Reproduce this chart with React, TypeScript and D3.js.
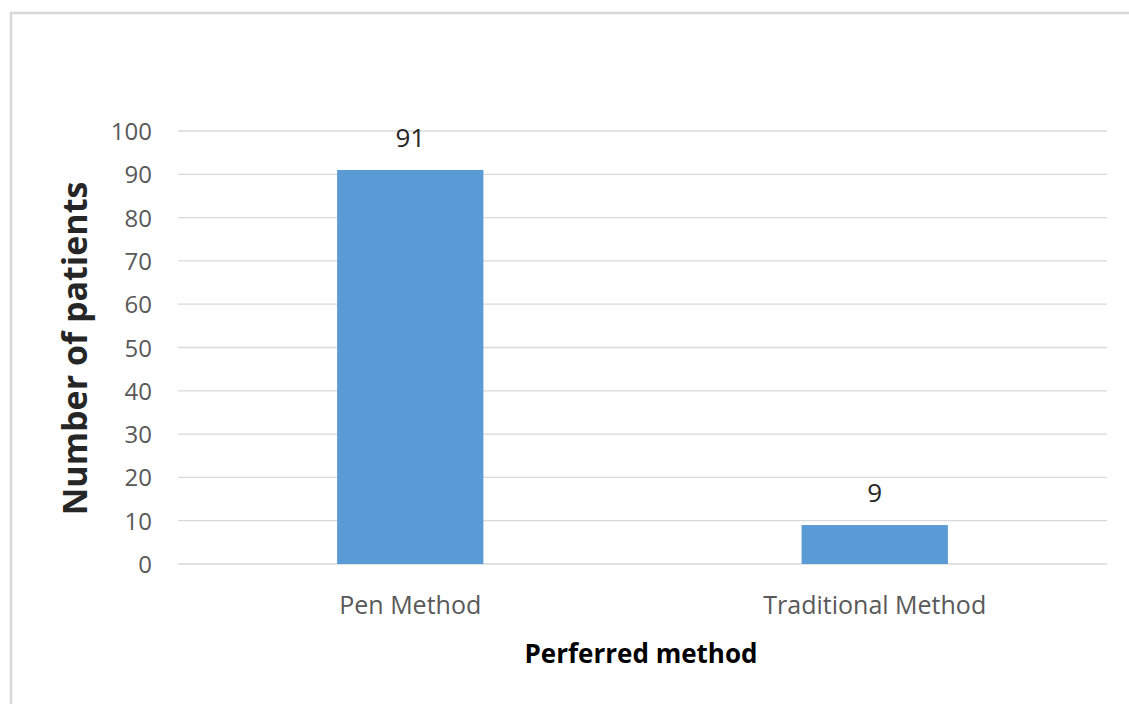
import React from "react";
import * as d3 from "d3";

const categories = ["Pen Method", "Traditional Method"];
const patients = [91, 9];
const yTicks = [0, 10, 20, 30, 40, 50, 60, 70, 80, 90, 100];

const W = 1129;
const H = 704;
const plot = { left: 178, right: 1107, top: 131, bottom: 564 };
const font = "'Open Sans', sans-serif";

export default function App() {
  const x = d3
    .scaleBand<string>()
    .domain(categories)
    .range([plot.left, plot.right])
    .paddingInner(0.685)
    .paddingOuter(0.3425);
  const y = d3.scaleLinear().domain([0, 100]).range([plot.bottom, plot.top]);

  return (
    <svg
      width={W}
      height={H}
      style={{ position: "absolute", left: 0, top: 0, background: "#fff" }}
    >
      <rect x={11} y={13} width={W + 10} height={H + 10} fill="#fff" stroke="#d9d9d9" strokeWidth={2.5} />
      {yTicks.map((t) => (
        <g key={t}>
          <line x1={plot.left} x2={plot.right} y1={y(t)} y2={y(t)} stroke="#d9d9d9" strokeWidth={1.3} />
          <text
            x={152}
            y={y(t) + 9}
            textAnchor="end"
            fontFamily={font}
            fontSize={24}
            fill="#595959"
          >
            {t}
          </text>
        </g>
      ))}
      {categories.map((c, i) => (
        <g key={c}>
          <rect
            x={x(c)}
            y={y(patients[i])}
            width={x.bandwidth()}
            height={y(0) - y(patients[i])}
            fill="#5b9bd5"
          />
          <text
            x={(x(c) as number) + x.bandwidth() / 2}
            y={y(patients[i]) - 23}
            textAnchor="middle"
            fontFamily={font}
            fontSize={26}
            fill="#262626"
          >
            {patients[i]}
          </text>
          <text
            x={(x(c) as number) + x.bandwidth() / 2}
            y={614}
            textAnchor="middle"
            fontFamily={font}
            fontSize={25}
            fill="#595959"
          >
            {c}
          </text>
        </g>
      ))}
      <text
        x={641}
        y={663}
        textAnchor="middle"
        fontFamily={font}
        fontWeight="bold"
        fontSize={26}
        fill="#000"
      >
        Perferred method
      </text>
      <text
        transform={`translate(87, ${348.5}) rotate(-90)`}
        textAnchor="middle"
        fontFamily={font}
        fontWeight="bold"
        fontSize={34}
        fill="#262626"
      >
        Number of patients
      </text>
    </svg>
  );
}
